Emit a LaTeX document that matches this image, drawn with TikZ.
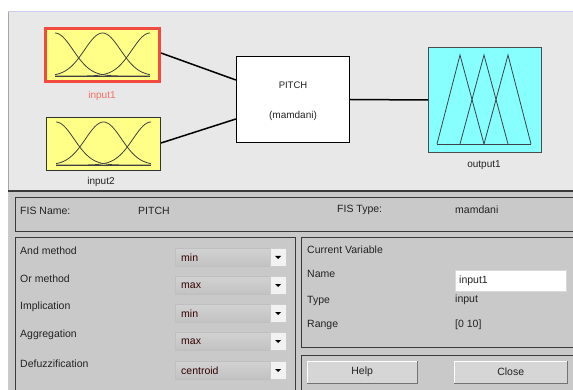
\documentclass[tikz,border=0pt]{standalone}
\usepackage{fontspec}
\setmainfont{Liberation Sans}
\definecolor{topbg}{HTML}{E8E8E8}
\definecolor{botbg}{HTML}{C9C9C9}
\definecolor{txtc}{HTML}{222222}
\definecolor{yel}{HTML}{FFFF88}
\definecolor{cyn}{HTML}{88FFFF}
\definecolor{redb}{HTML}{F24A3E}
\definecolor{pdark}{HTML}{3A3A3A}
\definecolor{ddtop}{HTML}{D2D2D2}
\definecolor{ddbot}{HTML}{C2C2C2}
\begin{document}
\begin{tikzpicture}[x=1pt,y=-1pt,
  t/.style={font=\fontsize{10.5}{12}\selectfont, text=txtc, inner sep=0pt, anchor=west},
  tc/.style={font=\fontsize{10}{12}\selectfont, text=txtc, inner sep=0pt},
  panel/.style={draw=pdark, line width=1pt},
  mfbox/.style={minimum width=114pt, minimum height=53pt, inner sep=0pt},
  conn/.style={line width=1.5pt, black},
  mf/.style={draw=black!75, line width=0.8pt},
  ddf/.style={draw=black!25, top color=ddtop, bottom color=ddbot, inner sep=0pt, minimum width=95pt, minimum height=18pt, anchor=north west},
  ddb/.style={draw=black!20, fill=white!95!black, inner sep=0pt, minimum width=16pt, minimum height=18pt, anchor=north west},
  btn/.style={fill=black!16, inner sep=0pt, minimum width=110pt, minimum height=22pt, anchor=north west, font=\fontsize{10.5}{12}\selectfont, text=txtc}
]
\useasboundingbox (0,0) rectangle (573,390);
\fill[white] (0,0) rectangle (573,390);
% top canvas
\fill[topbg] (8,12) rectangle (573,191);
\draw[color=black!30!blue!20!white, line width=1pt] (8,12) -- (573,12);
\draw[black!35, line width=0.8pt] (8,12) -- (8,390);
% bottom area
\fill[botbg] (8,191) rectangle (573,390);
\draw[pdark, line width=1.2pt] (8,191) -- (573,191);

% input boxes
\node[mfbox, draw=redb, line width=3pt, fill=yel] (in1) at (102.5,55) {};
\node[mfbox, draw=black!80, line width=1pt, fill=yel] (in2) at (103.5,144) {};
\foreach \b in {in1,in2}{
  \begin{scope}[shift={(\b.center)}]
    \draw[mf] (-47.5,21) -- (47.5,21);
    \draw[mf] plot[domain=-47.5:47.5, samples=50, smooth] (\x, {21-43*exp(-((\x+47.5)^2)/648)});
    \draw[mf] plot[domain=-47.5:47.5, samples=50, smooth] (\x, {21-43*exp(-((\x)^2)/648)});
    \draw[mf] plot[domain=-47.5:47.5, samples=50, smooth] (\x, {21-43*exp(-((\x-47.5)^2)/648)});
  \end{scope}
}
\node[tc, text=redb!80!white] (in1lab) at (102,96) {input1};
\node[tc] (in2lab) at (101,182) {input2};

% PITCH box
\node[draw=black, line width=1.3pt, fill=white, minimum width=113pt, minimum height=86pt, inner sep=0pt] (pitch) at (293,99.5) {};
\node[tc, font=\fontsize{9.5}{11}\selectfont] (pname) at (293,85) {PITCH};
\node[tc] (ptype) at (293,115.5) {(mamdani)};

% output box
\node[draw=black!70, line width=0.8pt, fill=cyn, minimum width=113pt, minimum height=105pt, inner sep=0pt] (out1) at (485,100) {};
\begin{scope}[shift={(out1.center)}]
  \draw[draw=black!70!cyan!60!black, line width=0.8pt] (-48,44) -- (46,44);
  \draw[draw=black!70!cyan!60!black, line width=0.8pt] (-48,44) -- (-25,-45) -- (-1,44);
  \draw[draw=black!70!cyan!60!black, line width=0.8pt] (-25,44) -- (-1,-45) -- (23,44);
  \draw[draw=black!70!cyan!60!black, line width=0.8pt] (-1,44) -- (23,-45) -- (46,44);
\end{scope}
\node[tc] (outlab) at (484,165) {output1};

% connectors
\draw[conn] (in1.east) ++(0,-2) coordinate (c1) -- ([yshift=19.5pt]pitch.west);
\draw[conn] ([yshift=1pt]in2.east) -- ([yshift=-19.5pt]pitch.west);
\draw[conn] (pitch.east) -- (out1.west);

% panels
\draw[panel] (15,198) rectangle (580,232);
\draw[panel] (15,238) rectangle (295,395);
\draw[panel] (301,238) rectangle (580,347);
\draw[panel] (301,355) rectangle (580,395);

\node[t] (fisn) at (20,210.5) {FIS Name:};
\node[t] (fisnv) at (138,210.5) {PITCH};
\node[t] (fist) at (337,209.5) {FIS Type:};
\node[t] (fistv) at (455,209.5) {mamdani};

% method rows
\foreach \i/\yy/\lab/\val in {1/248/And method/min, 2/276/Or method/max, 3/304/Implication/min, 4/332/Aggregation/max, 5/361/Defuzzification/centroid}{
  \node[t] (lab\i) at (20,\yy+3) {\lab};
  \node[ddf] (dd\i) at (175,\yy) {};
  \node[ddb] (db\i) at (270,\yy) {};
  \fill[black] (db\i.center) ++(-3,-1.2) -- ++(6,0) -- ++(-3,3) -- cycle;
  \node[t, text=black!80!red] (val\i) at (181,\yy+9.5) {\val};
}

% current variable
\node[t] (cv) at (307,250) {Current Variable};
\node[t] (nm) at (307,274) {Name};
\node[t] (ty) at (307,301) {Type};
\node[t] (rg) at (307,325) {Range};
\node[draw=black!15, fill=white, minimum width=111pt, minimum height=21pt, inner sep=0pt, anchor=north west] (nmf) at (455,270) {};
\node[t] (nmv) at (459,281) {input1};
\node[t] (tyv) at (455,300) {input};
\node[t] (rgv) at (455,325) {[0 10]};

% buttons
\node[btn] (help) at (307,361) {Help};
\node[btn, minimum width=113pt] (close) at (454,361) {Close};
\foreach \b in {help,close}{
  \draw[white, line width=1pt] (\b.south west) -- (\b.north west) -- (\b.north east);
  \draw[black!55, line width=1pt] (\b.north east) -- (\b.south east) -- (\b.south west);
}
\end{tikzpicture}
\end{document}
